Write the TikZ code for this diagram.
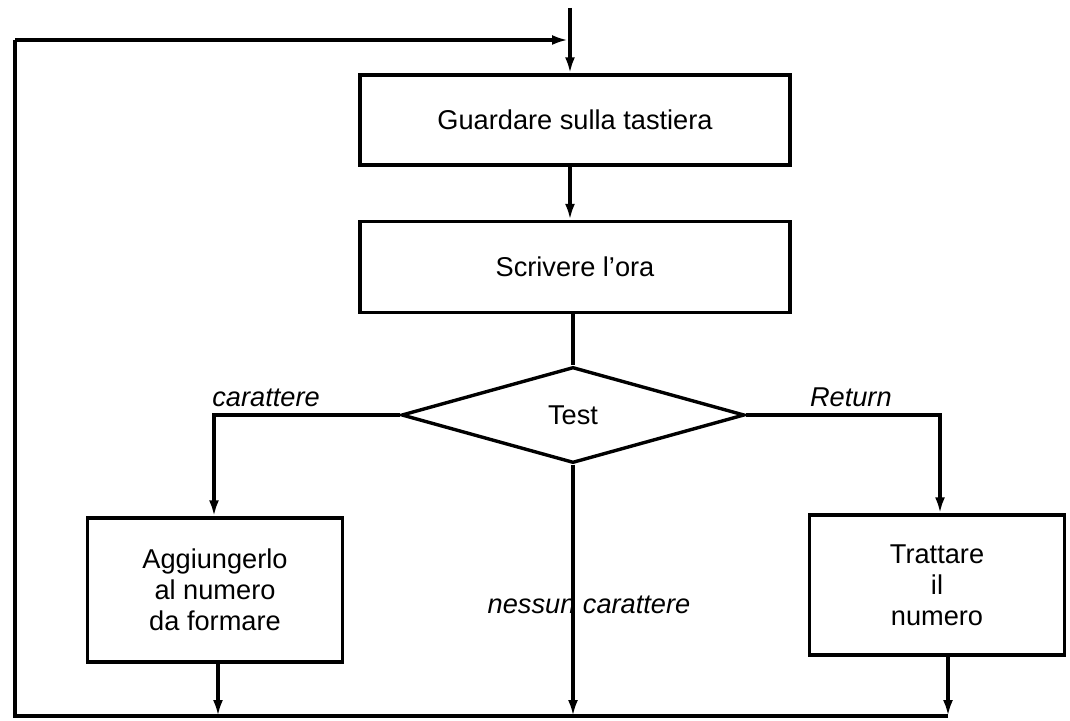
\documentclass[tikz,border=0pt]{standalone}
\usepackage{fontspec}
\setmainfont{Liberation Sans}
\usetikzlibrary{shapes.geometric,arrows.meta}

\tikzset{
  blocco/.style = {draw, line width = 1.7pt, align = center, inner sep = 0pt},
  freccia/.style = {line width = 1.7pt, -{Latex[length = 8pt, width = 5pt]}},
  linea/.style = {line width = 1.7pt},
  etich/.style = {font = \fontsize{13.6}{15.5}\selectfont\itshape}
}

\begin{document}
\begin{tikzpicture}[x = 0.5pt, y = -0.5pt, font = \fontsize{13.6}{15.5}\selectfont]
\useasboundingbox (0,0) rectangle (1070,721);

\node[blocco, minimum width = 215pt, minimum height = 45pt] (guarda) at (575,120) {Guardare sulla tastiera};
\node[blocco, minimum width = 215pt, minimum height = 45.5pt] (scrivi) at (575,267) {Scrivere l'ora};
\node[blocco, diamond, aspect = 3.6, minimum width = 171.5pt, minimum height = 48pt] (test) at (573,415) {Test};
\node[blocco, minimum width = 127.5pt, minimum height = 72pt] (aggiungi) at (215,590) {Aggiungerlo\\al numero\\da formare};
\node[blocco, minimum width = 127.5pt, minimum height = 70pt] (tratta) at (937,585) {Trattare\\il\\numero};

\coordinate (inizio) at (570,8);
\coordinate (ingresso) at (570,40);
\coordinate (angsup) at (15,40);
\coordinate (anginf) at (15,716);
\coordinate (finedx) at (948,716);

\draw[linea] (inizio) -- (ingresso);
\draw[freccia] (ingresso) -- (guarda.north -| ingresso);
\draw[freccia] (guarda.south -| ingresso) -- (scrivi.north -| ingresso);
\draw[linea] (scrivi.south -| test.north) -- (test.north);

\draw[freccia] (test.west) -| node[etich, above, pos = .36]{carattere} ([xshift = -0.5pt]aggiungi.north);
\draw[freccia] (test.east) -| node[etich, above, pos = .27]{Return} ([xshift = 1.5pt]tratta.north);
\draw[freccia] (test.south) -- (test.south |- anginf);
\node[etich] (nessun) at (589,605) {nessun carattere};

\draw[freccia] ([xshift = 1.5pt]aggiungi.south) -- ([xshift = 1.5pt]aggiungi.south |- anginf);
\draw[freccia] (tratta.south -| finedx) -- (finedx);

\draw[linea] (finedx) -- (anginf) -- (angsup);
\draw[freccia] (angsup) -- ([xshift = -1pt]ingresso);
\end{tikzpicture}
\end{document}
